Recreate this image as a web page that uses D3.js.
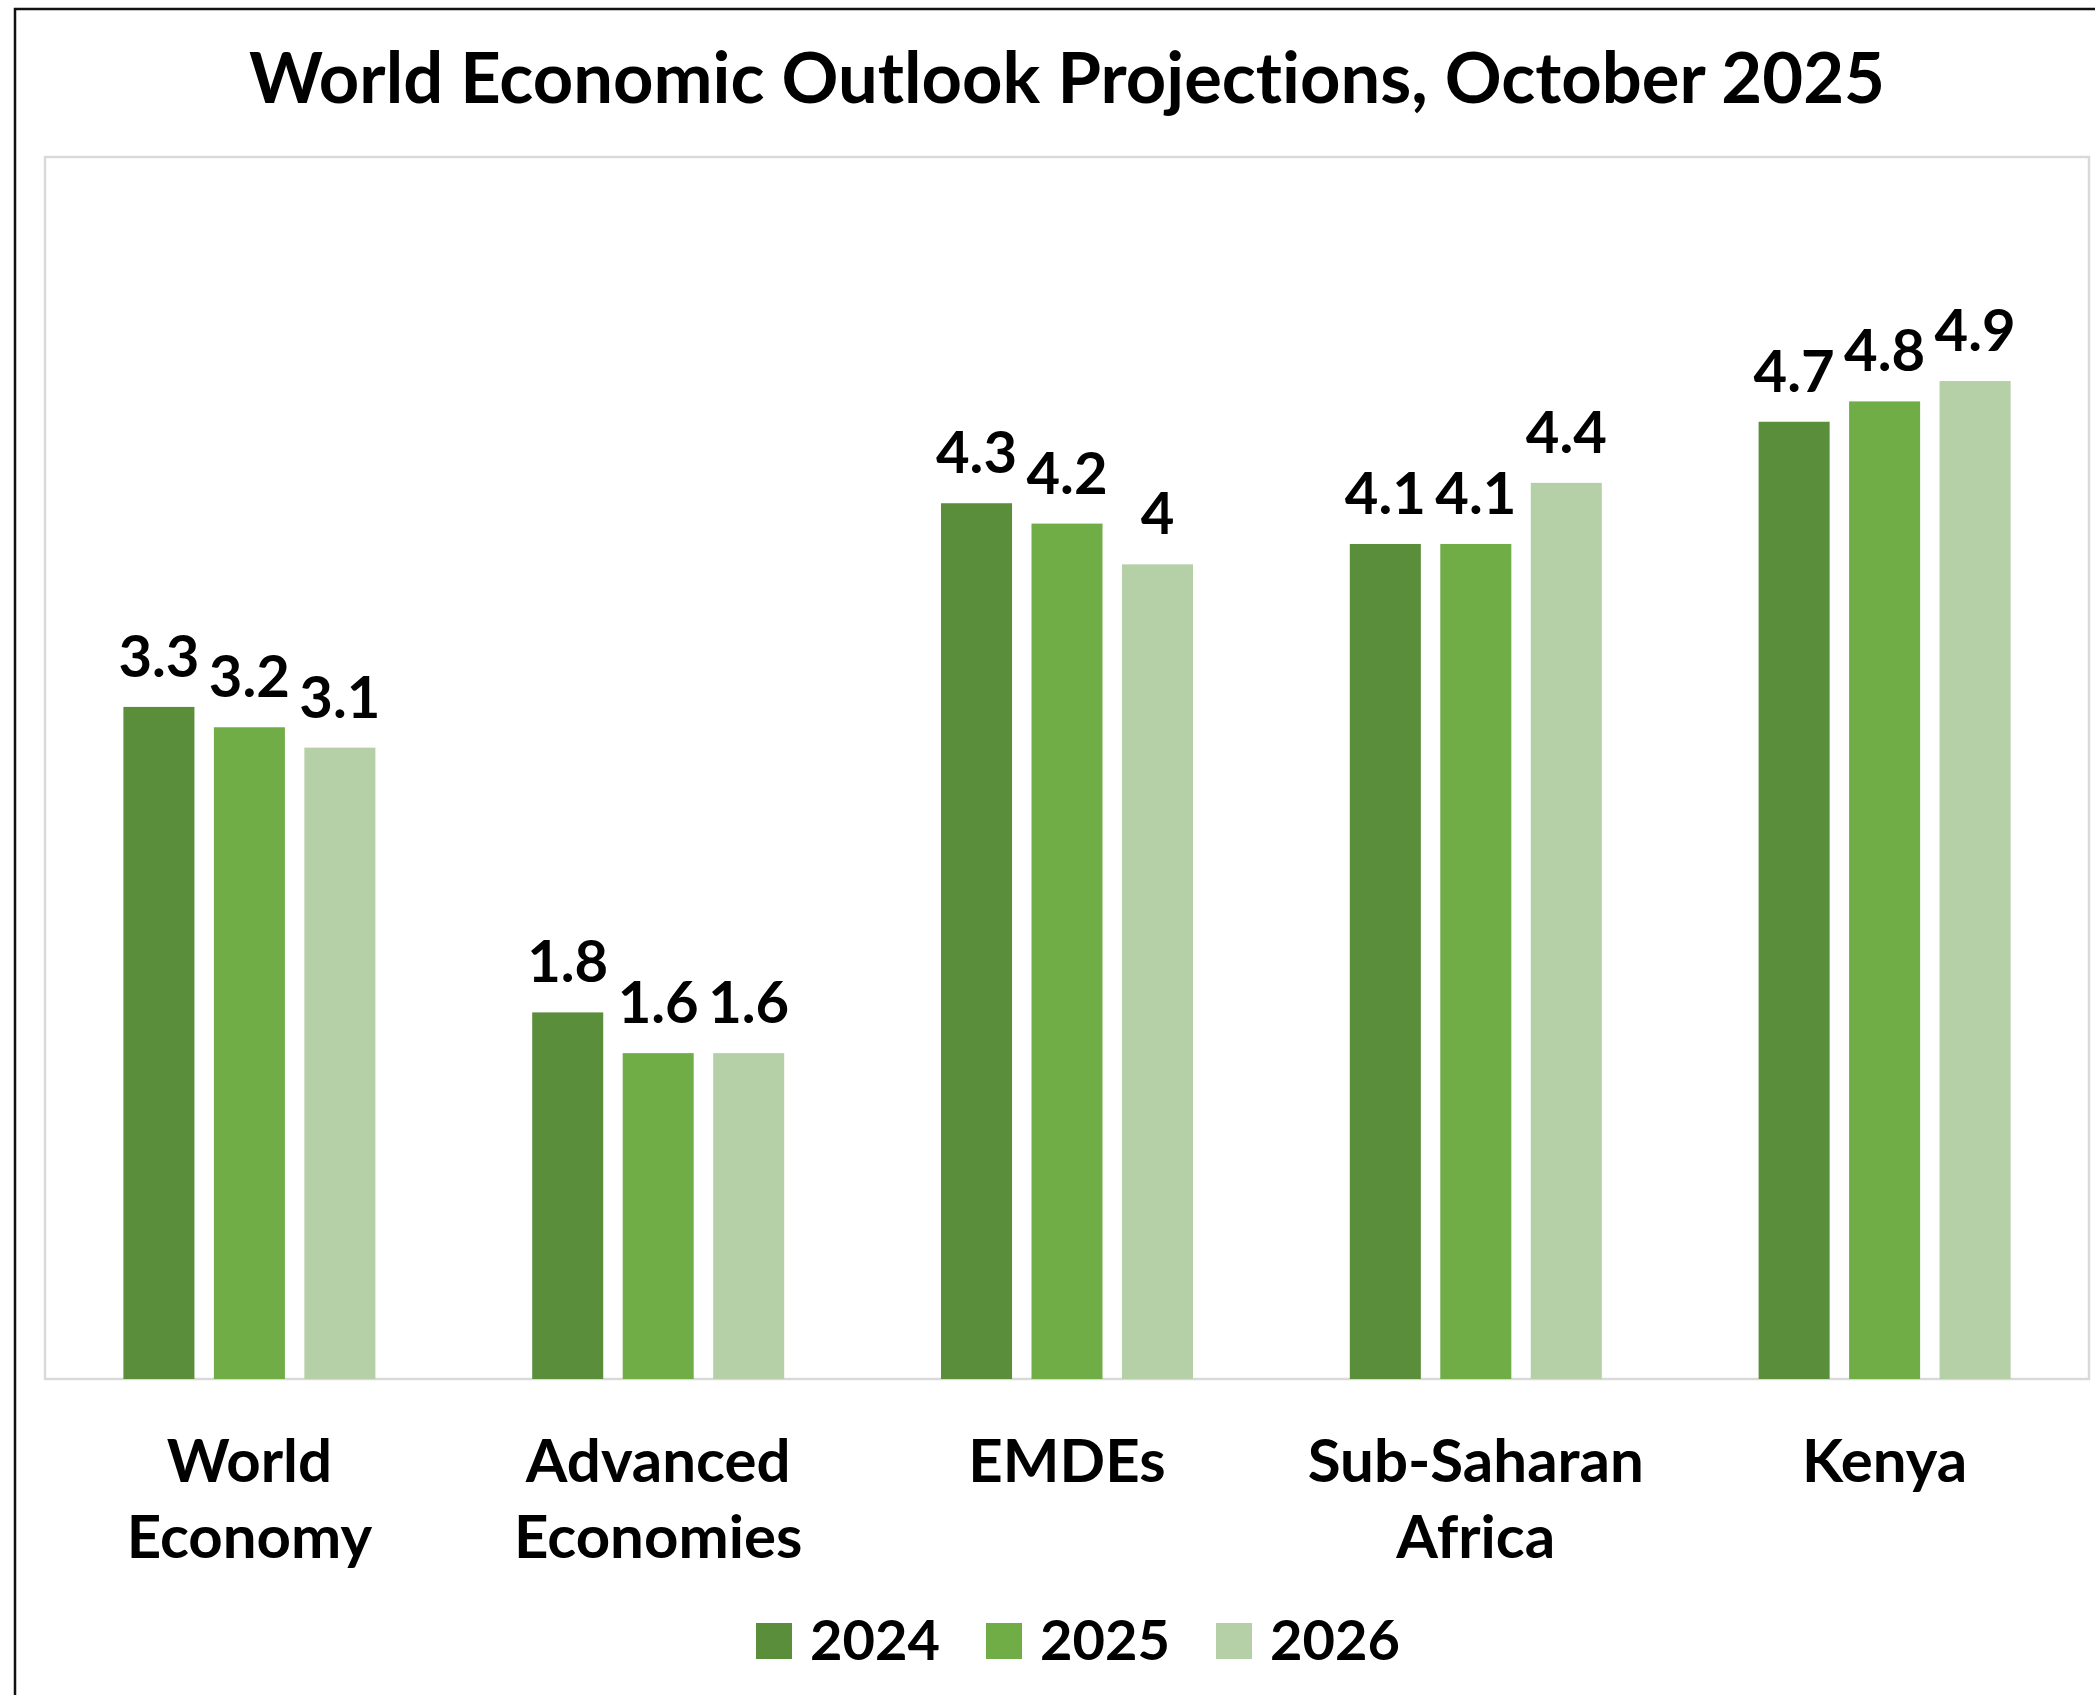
<!DOCTYPE html>
<html>
<head>
<meta charset="utf-8">
<script src="https://cdn.jsdelivr.net/npm/d3@7"></script>
<style>
  html, body { margin: 0; padding: 0; background: #fff; }
  svg { display: block; }
  text { font-family: Lato, "Noto Sans", sans-serif; font-weight: 700; fill: #000;
         font-variant-ligatures: none; font-feature-settings: "liga" 0, "dlig" 0; }
</style>
</head>
<body>
<svg id="chart" width="2095" height="1695"></svg>
<script>
// GDP growth projections (%), by region
const categories = [["World", "Economy"], ["Advanced", "Economies"], ["EMDEs"], ["Sub-Saharan", "Africa"], ["Kenya"]];
const years = ["2024", "2025", "2026"];
const growth2024 = [3.3, 1.8, 4.3, 4.1, 4.7];
const growth2025 = [3.2, 1.6, 4.2, 4.1, 4.8];
const growth2026 = [3.1, 1.6, 4.0, 4.4, 4.9];
const seriesValues = [growth2024, growth2025, growth2026];
const colors = ["#5B8E3A", "#70AD47", "#B5D0A7"];
const yTicks = [0, 1, 2, 3, 4, 5, 6];

const W = 2095, H = 1695;
const plot = { left: 45, top: 157, right: 2089, bottom: 1379 };

const svg = d3.select("#chart");

// outer frame
svg.append("rect")
  .attr("x", 15).attr("y", 9)
  .attr("width", W).attr("height", H)
  .attr("fill", "none").attr("stroke", "#111").attr("stroke-width", 2.5);

// title
svg.append("text")
  .attr("x", (plot.left + plot.right) / 2).attr("y", 103)
  .attr("text-anchor", "middle")
  .attr("font-size", 70.5)
  .text("World Economic Outlook Projections, October 2025");

const catKeys = categories.map(c => c.join(" "));
const x0 = d3.scaleBand().domain(catKeys).range([plot.left, plot.right]).padding(0);
const groupW = 252;
const x1 = d3.scaleBand().domain(years).range([0, groupW]).paddingInner(0.215).paddingOuter(0);
const y = d3.scaleLinear().domain([0, d3.max(yTicks)]).range([plot.bottom, plot.top]);

// plot area border
svg.append("rect")
  .attr("x", plot.left).attr("y", plot.top)
  .attr("width", plot.right - plot.left).attr("height", plot.bottom - plot.top)
  .attr("fill", "none").attr("stroke", "#D9D9D9").attr("stroke-width", 2.5);

const rows = catKeys.map((k, i) => ({ key: k, lines: categories[i], vals: seriesValues.map((s, j) => ({ year: years[j], v: s[i], c: colors[j] })) }));

const groups = svg.append("g").selectAll("g").data(rows).join("g")
  .attr("transform", d => `translate(${x0(d.key) + (x0.bandwidth() - groupW) / 2},0)`);

groups.selectAll("rect").data(d => d.vals).join("rect")
  .attr("x", d => x1(d.year))
  .attr("width", x1.bandwidth())
  .attr("y", d => y(d.v))
  .attr("height", d => y(0) - y(d.v))
  .attr("fill", d => d.c);

groups.selectAll("text.val").data(d => d.vals).join("text")
  .attr("class", "val")
  .attr("x", d => x1(d.year) + x1.bandwidth() / 2)
  .attr("y", d => y(d.v) - 30)
  .attr("text-anchor", "middle")
  .attr("font-size", 58)
  .text(d => String(d.v));

// category axis labels
const xAxisG = svg.append("g");
rows.forEach(r => {
  const cx = x0(r.key) + x0.bandwidth() / 2;
  const t = xAxisG.append("text")
    .attr("x", cx)
    .attr("y", 1482)
    .attr("text-anchor", "middle")
    .attr("font-size", 60);
  r.lines.forEach((ln, i) => {
    t.append("tspan").attr("x", cx).attr("dy", i === 0 ? 0 : 76).text(ln);
  });
});

// legend
const legend = svg.append("g").selectAll("g").data(years).join("g")
  .attr("transform", (d, i) => `translate(${756 + i * 230},0)`);
legend.append("rect").attr("x", 0).attr("y", 1623).attr("width", 36).attr("height", 36)
  .attr("fill", (d, i) => colors[i]);
legend.append("text").attr("x", 54).attr("y", 1660).attr("font-size", 56).text(d => d);
</script>
</body>
</html>
